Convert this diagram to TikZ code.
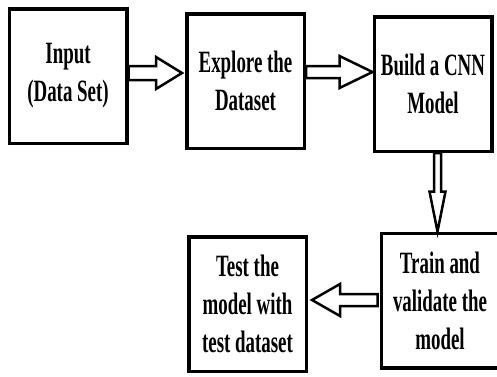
\documentclass[tikz,border=0pt]{standalone}
\usepackage{fontspec}
\setmainfont{Liberation Serif}[FakeStretch=0.61]
\usetikzlibrary{calc}

\tikzset{
    box/.style={draw, line width=3.5pt, minimum width=117.5pt, minimum height=134.5pt,
        inner sep=0pt, align=center, font=\fontsize{31}{38}\selectfont\bfseries},
    % hollow block arrow: shaft half width, head half width, head length
    fat/.style n args={3}{draw, line width=2.5pt, line join=miter, to path={
        let \p1=($(\tikztotarget)-(\tikztostart)$), \n1={atan2(\y1,\x1)},
            \n2={veclen(\x1,\y1)-#3pt} in
        ($(\tikztostart)+(\n1+90:#1pt)$)
        -- ($(\tikztostart)+(\n1:\n2)+(\n1+90:#1pt)$)
        -- ($(\tikztostart)+(\n1:\n2)+(\n1+90:#2pt)$)
        -- (\tikztotarget)
        -- ($(\tikztostart)+(\n1:\n2)+(\n1-90:#2pt)$)
        -- ($(\tikztostart)+(\n1:\n2)+(\n1-90:#1pt)$)
        -- ($(\tikztostart)+(\n1-90:#1pt)$) -- cycle}}
}

\begin{document}
\begin{tikzpicture}[x=1pt, y=-1pt]
    \useasboundingbox (0,0) rectangle (497,376);

    % Steps of the workflow
    \node[box] (input) at (68,76) {Input\\(Data Set)};
    \node[box] (explore) at (245.5,81) {Explore the\\Dataset};
    \node[box] (build) at (433,84) {Build a CNN\\Model};
    \node[box] (train) at (440,300.5) {Train and\\validate the\\model};
    \node[box] (test) at (247.5,304) {Test the\\model with\\test dataset};

    % Block arrows between the steps
    \draw[fat={7}{16}{26}] ([yshift=3pt]input.east) to ([xshift=-3pt,yshift=8pt]explore.west);
    \draw[fat={6}{16}{33}] ([yshift=9pt]explore.east) to ([yshift=12pt]build.west);
    \draw[fat={3.5}{8}{40}] ([xshift=4.5pt]build.south) to ([xshift=-2.5pt]train.north);
    \draw[fat={6}{16}{28}] ([xshift=-2pt,yshift=0.5pt]train.west) to ([xshift=4pt,yshift=4pt]test.east);
\end{tikzpicture}
\end{document}
